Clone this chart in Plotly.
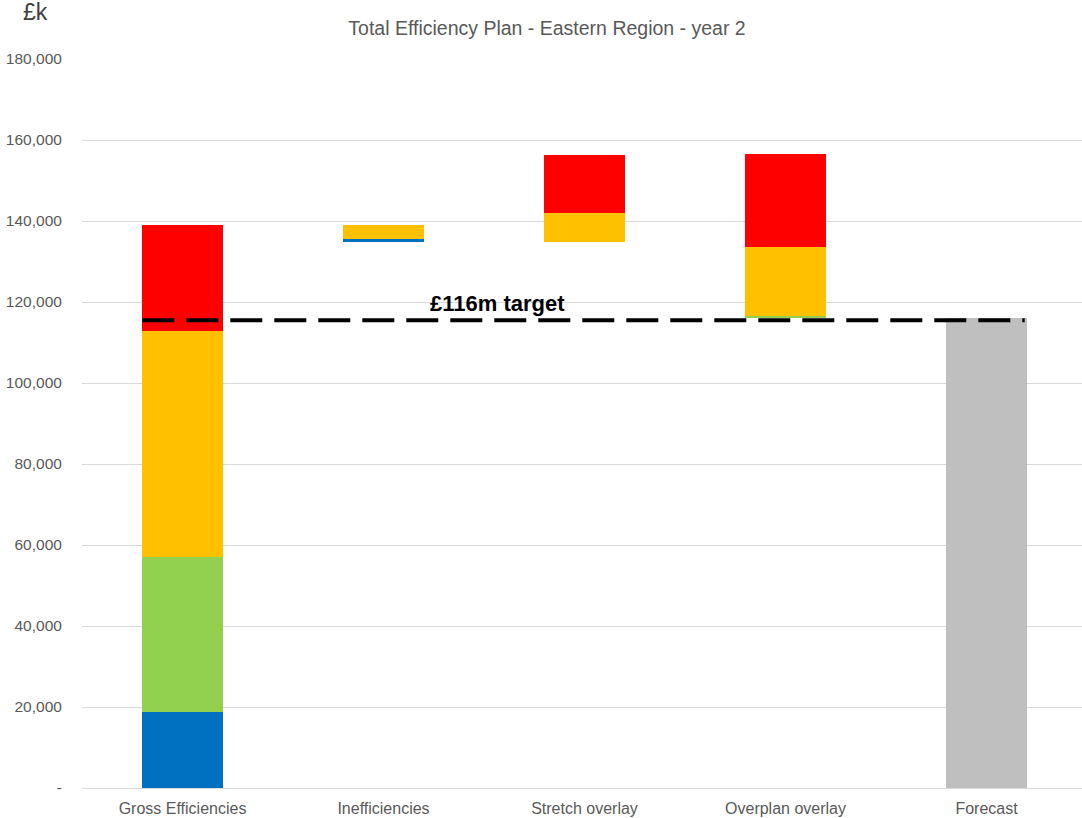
import plotly.graph_objects as go

categories = ["Gross Efficiencies", "Inefficiencies", "Stretch overlay", "Overplan overlay", "Forecast"]
base = [0, 134700, 134700, 116100, 0]
blue = [18700, 800, 0, 0, 0]
green = [38300, 0, 0, 400, 0]
orange = [55800, 3500, 7300, 17100, 0]
red = [26200, 0, 14400, 22900, 0]
grey = [0, 0, 0, 0, 116000]
target = 115500
target_label = "£116m target"
tick_vals = [0, 20000, 40000, 60000, 80000, 100000, 120000, 140000, 160000, 180000]
tick_text = ["-", "20,000", "40,000", "60,000", "80,000", "100,000", "120,000", "140,000", "160,000", "180,000"]

FONT = "Liberation Sans, Arial, sans-serif"

fig = go.Figure()
series = [
    ("Base", base, "rgba(0,0,0,0)"),
    ("Blue", blue, "#0070C0"),
    ("Green", green, "#92D050"),
    ("Amber", orange, "#FFC000"),
    ("Red", red, "#FF0000"),
    ("Forecast", grey, "#BFBFBF"),
]
for name, vals, col in series:
    fig.add_trace(go.Bar(x=categories, y=vals, name=name, marker=dict(color=col, line=dict(width=0)),
                         hoverinfo="skip" if name == "Base" else None))

fig.add_shape(type="line", xref="x", yref="y", x0=-0.2, x1=4.19, y0=target, y1=target,
              line=dict(color="black", width=4, dash="32px,12px"))
fig.add_annotation(x=1.565, y=target, xref="x", yref="y", text="<b>" + target_label + "</b>",
                   showarrow=False, yanchor="bottom", yshift=2,
                   font=dict(family=FONT, size=22, color="black"))
fig.add_annotation(x=(35 - 82) / 1000, y=(788 - 12) / 729, xref="paper", yref="paper", text="£k",
                   showarrow=False, xanchor="center", yanchor="middle",
                   font=dict(family=FONT, size=23, color="#404040"))

fig.update_layout(
    barmode="stack",
    bargap=0.6,
    width=1082, height=818,
    margin=dict(l=82, r=0, t=59, b=30, autoexpand=False),
    plot_bgcolor="white", paper_bgcolor="white",
    showlegend=False,
    title=dict(text="Total Efficiency Plan - Eastern Region - year 2", x=547 / 1082, xanchor="center",
               y=1 - 28 / 818, yanchor="middle", automargin=False,
               font=dict(family=FONT, size=19.5, color="#595959")),
    font=dict(family=FONT, size=16, color="#595959"),
)
fig.update_xaxes(range=[-0.5, 4.475], showgrid=False, showline=True, linecolor="#D9D9D9",
                 automargin=False, tickfont=dict(family=FONT, size=16, color="#595959"),
                 ticks="outside", ticklen=6, tickcolor="rgba(0,0,0,0)")
fig.update_yaxes(range=[0, 180000], tickvals=tick_vals, ticktext=tick_text, showgrid=True,
                 gridcolor="#D9D9D9", gridwidth=1, zeroline=False, ticks="outside", ticklen=16,
                 automargin=False, tickcolor="rgba(0,0,0,0)",
                 tickfont=dict(family=FONT, size=15.5, color="#595959"))

fig.write_html("out.html", config={"displayModeBar": False},
               post_script="document.body.style.margin='0';document.body.style.overflow='hidden';")
